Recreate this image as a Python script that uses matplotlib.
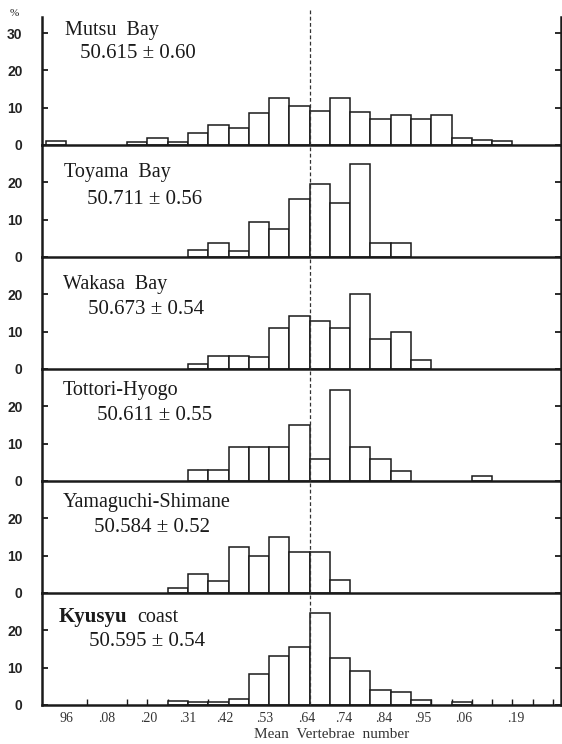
import matplotlib.pyplot as plt

# regions and their mean vertebrae numbers
regions = ["Mutsu  Bay", "Toyama  Bay", "Wakasa  Bay", "Tottori-Hyogo",
           "Yamaguchi-Shimane", "Kyusyu  coast"]
means = ["50.615 ± 0.60", "50.711 ± 0.56", "50.673 ± 0.54", "50.611 ± 0.55",
         "50.584 ± 0.52", "50.595 ± 0.54"]

# percent frequency per class (class index 0..24)
mutsu = [1.1, 0, 0, 0, 0.8, 2.0, 0.8, 3.3, 5.4, 4.5, 8.5, 12.7, 10.5,
         9.2, 12.7, 8.8, 7.0, 8.1, 7.1, 8.1, 1.9, 1.25, 1.2, 0, 0]
toyama = [0, 0, 0, 0, 0, 0, 0, 1.8, 3.75, 1.5, 9.5, 7.6, 15.6,
          19.6, 14.5, 25.0, 3.75, 3.8, 0, 0, 0, 0, 0, 0, 0]
wakasa = [0, 0, 0, 0, 0, 0, 0, 1.25, 3.55, 3.5, 3.1, 11.1, 14.2,
          12.9, 11.0, 20.2, 8.1, 10.0, 2.4, 0, 0, 0, 0, 0, 0]
tottori = [0, 0, 0, 0, 0, 0, 0, 2.9, 2.9, 9.2, 9.0, 9.0, 15.0,
           6.0, 24.3, 9.0, 5.9, 2.7, 0, 0, 0, 1.3, 0, 0, 0]
yamaguchi = [0, 0, 0, 0, 0, 0, 1.3, 5.2, 3.3, 12.2, 9.8, 15.0, 11.0,
             11.0, 3.6, 0, 0, 0, 0, 0, 0, 0, 0, 0, 0]
kyusyu = [0, 0, 0, 0, 0, 0, 1.15, 0.9, 0.9, 1.7, 8.2, 13.2, 15.6,
          24.7, 12.6, 9.0, 4.0, 3.6, 1.3, 0, 0.9, 0, 0, 0, 0]

series = [mutsu, toyama, wakasa, tottori, yamaguchi, kyusyu]

tick_labels = ["96", ".08", ".20", ".31", ".42", ".53", ".64", ".74",
               ".84", ".95", ".06", ".19"]
tick_pos = [1.0, 3.0, 5.05, 7.0, 8.8, 10.8, 12.85, 14.7, 16.65, 18.6, 20.6, 23.15]
mean_class_edge = 13

W, H = 562, 744
INK = "#1a1a1a"
SERIF = ["Liberation Serif", "DejaVu Serif"]

fig = plt.figure(figsize=(W / 100, H / 100), dpi=100)
fig.patch.set_facecolor("white")

tops = [17, 145, 257, 369, 481, 593]
bottoms = [145, 257, 369, 481, 593, 705]
label_pos = [(65, 31, 80, 53), (64, 173, 87, 200), (63, 284, 88, 309),
             (63, 391, 97, 416), (63, 502, 94, 528), (59, 617, 89, 642)]
px_per_unit = 3.73

for k, vals in enumerate(series):
    top, bot = tops[k], bottoms[k]
    ax = fig.add_axes([42 / W, 1 - bot / H, 519 / W, (bot - top) / H])
    ax.set_facecolor("none")
    idx = [i for i, v in enumerate(vals) if v > 0]
    hts = [vals[i] for i in idx]
    ax.bar(idx, hts, width=1, align="edge", color="white",
           edgecolor=INK, linewidth=1.1, zorder=2)
    ax.axvline(mean_class_edge, ymin=0, ymax=1.07 if k == 0 else 1,
               color="#333333", lw=0.9, ls=(0, (3, 2)), zorder=3,
               clip_on=False)
    ax.set_xlim(-0.2, 25.4)
    ax.set_ylim(0, (bot - top) / px_per_unit)

    for side in ["left", "right", "bottom"]:
        ax.spines[side].set_linewidth(1.8)
        ax.spines[side].set_color(INK)
    ax.spines["top"].set_visible(False)

    yt = [0, 10, 20, 30] if k == 0 else [0, 10, 20]
    ax.set_yticks(yt)
    ax.set_yticklabels([str(v) for v in yt], fontsize=10,
                       family=["Liberation Sans", "DejaVu Sans"],
                       fontweight="bold", color="#222222")
    ax.tick_params(axis="y", direction="in", length=4, width=1.3,
                   left=True, right=True, pad=14, colors=INK,
                   labelcolor="#222222")

    if k == len(series) - 1:
        ax.set_xticks(range(1, 26), minor=True)
        ax.set_xticks(tick_pos)
        ax.set_xticklabels(tick_labels, fontsize=10, family=SERIF,
                           color="#333333")
        ax.tick_params(axis="x", which="major", length=0, pad=5)
        ax.tick_params(axis="x", which="minor", direction="in",
                       length=4, width=1.0, colors=INK)
    else:
        ax.set_xticks([])

    x1, y1, x2, y2 = label_pos[k]
    name = regions[k]
    if name.startswith("Kyusyu"):
        fig.text(x1 / W, 1 - y1 / H, "Kyusyu", fontsize=15,
                 family=SERIF, fontweight="bold", va="center", color=INK)
        fig.text((x1 + 78) / W, 1 - y1 / H, "coast", fontsize=14.5,
                 family=SERIF, va="center", color=INK)
    else:
        fig.text(x1 / W, 1 - y1 / H, name, fontsize=14.5, family=SERIF,
                 va="center", color=INK)
    fig.text(x2 / W, 1 - y2 / H, means[k], fontsize=15, family=SERIF,
             va="center", color=INK)

fig.text(332 / W, 1 - 735 / H, "Mean  Vertebrae  number", fontsize=11,
         family=SERIF, color="#333333", ha="center", va="center")
fig.text(14 / W, 1 - 13 / H, "%", fontsize=8, family=SERIF,
         va="center", ha="center", color=INK)

fig.savefig("out.png", dpi=100, facecolor="white")
